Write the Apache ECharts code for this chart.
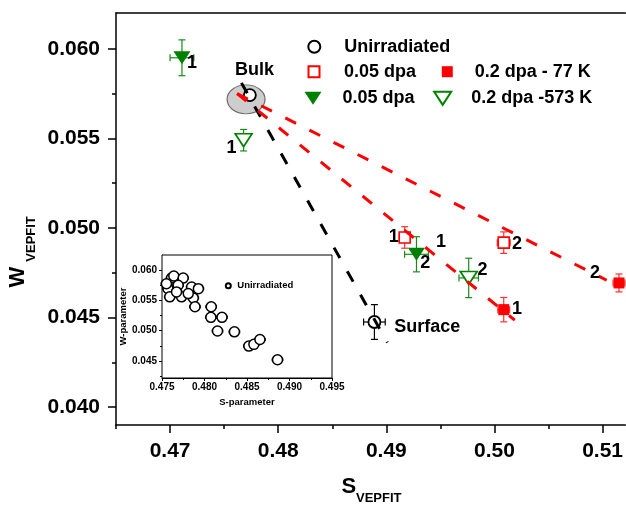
<!DOCTYPE html>
<html><head><meta charset="utf-8">
<script src="https://cdn.jsdelivr.net/npm/echarts@6/dist/echarts.min.js"></script>
<style>html,body{margin:0;padding:0;background:#fff}#c{width:626px;height:505px}</style>
</head><body><div id="c"></div>
<script>
// ---------- data ----------
const xMajorTicks = [0.47, 0.48, 0.49, 0.50, 0.51];
const xMinorTicks = [0.465, 0.475, 0.485, 0.495, 0.505];
const yMajorTicks = [0.040, 0.045, 0.050, 0.055, 0.060];
const yMinorTicks = [0.0425, 0.0475, 0.0525, 0.0575];

// [S, W, S-error, W-error]
const unirradiated = [[0.47738, 0.05742, 0, 0], [0.4889, 0.04475, 0.0010, 0.00097]];
const dpa005Open   = [[0.4917, 0.04947, 0.0005, 0.0006], [0.50086, 0.04918, 0.0006, 0.0006]];
const dpa02at77K   = [[0.50086, 0.04544, 0.00055, 0.00068], [0.51152, 0.04693, 0.00055, 0.0005]];
const dpa005Tri    = [[0.4711, 0.0595, 0.0011, 0.0010], [0.49279, 0.04853, 0.0011, 0.00098]];
const dpa02at573K  = [[0.4768, 0.0549, 0, 0.0006], [0.49762, 0.04721, 0.0009, 0.0011]];

const bulkRegion = [[0.47703, 0.05718]];
const bulkToSurface = [[0.4766, 0.0581], [0.4901, 0.0436]];
const bulkToSample1 = [[0.4762, 0.0575], [0.50188, 0.04485]];
const bulkToSample2 = [[0.4762, 0.0575], [0.51038, 0.04708]];

const pointNotes = [
  [0.47202, 0.05923, '1'], [0.47569, 0.05444, '1'], [0.49069, 0.04950, '1'],
  [0.50208, 0.04913, '2'], [0.49360, 0.04802, '2'], [0.49506, 0.04922, '1'],
  [0.49890, 0.04764, '2'], [0.50209, 0.04545, '1'], [0.50930, 0.04746, '2']
];
const regionNotes = [[0.47780, 0.05880, 'Bulk'], [0.49379, 0.04447, 'Surface']];

// inset
const insetXTicks = [0.475, 0.480, 0.485, 0.490, 0.495];
const insetYTicks = [0.045, 0.050, 0.055, 0.060];
const insetYMinor = [0.0425, 0.0475, 0.0525, 0.0575];
const insetPoints = [
  [0.47612, 0.05869, 0.0006], [0.47639, 0.05902, 0.0006], [0.47749, 0.05869, 0.0006],
  [0.47571, 0.05694, 0.0006], [0.47690, 0.05750, 0.0006], [0.47849, 0.05722, 0.0006],
  [0.47928, 0.05694, 0.0006], [0.47591, 0.05559, 0.0006], [0.47730, 0.05559, 0.0006],
  [0.47868, 0.05542, 0.0006], [0.47671, 0.05641, 0.0006], [0.47809, 0.05613, 0.0006],
  [0.47552, 0.05776, 0.0006], [0.47888, 0.05395, 0.0006], [0.48079, 0.05395, 0.0006],
  [0.48075, 0.05221, 0.0006], [0.48206, 0.05221, 0.0006], [0.48153, 0.04995, 0.0006],
  [0.48352, 0.04982, 0.0006], [0.48522, 0.04747, 0.0006], [0.48581, 0.04775, 0.0006],
  [0.48652, 0.04856, 0.0006], [0.48859, 0.04521, 0.0006]
];

// ---------- chart ----------
const FF = "'Liberation Sans', Arial, sans-serif";
const RED = '#ff0000', GREEN = '#008000', BLACK = '#000000';
const DOWN_TRIANGLE = 'path://M0,0L17,0L8.5,13Z';

function errorBars(data, color, xi, yi, cap, lw, z) {
  return {
    type: 'custom', xAxisIndex: xi, yAxisIndex: yi, data: data, z: z, silent: true,
    encode: { x: 0, y: 1 },
    renderItem: function (params, api) {
      const x = api.value(0), y = api.value(1), ex = api.value(2), ey = api.value(3);
      const st = { stroke: color, lineWidth: lw };
      const ch = [];
      if (ey > 0) {
        const a = api.coord([x, y - ey]), b = api.coord([x, y + ey]);
        ch.push({ type: 'line', shape: { x1: a[0], y1: a[1], x2: b[0], y2: b[1] }, style: st });
        ch.push({ type: 'line', shape: { x1: a[0] - cap, y1: a[1], x2: a[0] + cap, y2: a[1] }, style: st });
        ch.push({ type: 'line', shape: { x1: b[0] - cap, y1: b[1], x2: b[0] + cap, y2: b[1] }, style: st });
      }
      if (ex > 0) {
        const a = api.coord([x - ex, y]), b = api.coord([x + ex, y]);
        ch.push({ type: 'line', shape: { x1: a[0], y1: a[1], x2: b[0], y2: b[1] }, style: st });
        ch.push({ type: 'line', shape: { x1: a[0], y1: a[1] - cap, x2: a[0], y2: a[1] + cap }, style: st });
        ch.push({ type: 'line', shape: { x1: b[0], y1: b[1] - cap, x2: b[0], y2: b[1] + cap }, style: st });
      }
      return { type: 'group', children: ch };
    }
  };
}

function textNotes(data) {
  return {
    type: 'custom', xAxisIndex: 0, yAxisIndex: 0, data: data, z: 7, silent: true,
    encode: { x: 0, y: 1 },
    renderItem: function (params, api) {
      const p = api.coord([api.value(0), api.value(1)]);
      return { type: 'text', x: p[0], y: p[1],
        style: { text: data[params.dataIndex][2], font: 'bold 18px ' + FF, fill: BLACK,
                 textAlign: 'center', textVerticalAlign: 'middle' } };
    }
  };
}

function dashed(data, color) {
  return {
    type: 'line', data: data, xAxisIndex: 0, yAxisIndex: 0, symbol: 'none', showSymbol: false,
    silent: true, z: 6, lineStyle: { color: color, width: 3, type: [12, 15] }
  };
}

const axisLineStyle = { color: BLACK, width: 1.5 };
const bigLabel = { fontSize: 21, fontWeight: 'bold', color: BLACK, fontFamily: FF };
const smallLabel = { fontSize: 10, fontWeight: 'bold', color: BLACK, fontFamily: FF };
const legendText = (pad) => ({ fontSize: 18, fontWeight: 'bold', color: BLACK, fontFamily: FF, padding: [0, 0, 0, pad] });

const option = {
  animation: false,
  backgroundColor: '#fff',
  grid: [
    { left: 116, top: 13, width: 510, height: 412 },
    { left: 162, top: 255, width: 170, height: 123, show: true, backgroundColor: '#fff', borderColor: BLACK, borderWidth: 1, z: 1 }
  ],
  xAxis: [
    { gridIndex: 0, type: 'value', min: 0.465, max: 0.5121, position: 'bottom',
      axisLine: { onZero: false, lineStyle: axisLineStyle },
      axisTick: { customValues: xMajorTicks, length: 8, lineStyle: axisLineStyle },
      axisLabel: { customValues: xMajorTicks, formatter: v => v.toFixed(2), margin: 16, ...bigLabel },
      splitLine: { show: false } },
    { gridIndex: 0, type: 'value', min: 0.465, max: 0.5121, position: 'bottom',
      axisLine: { show: false },
      axisTick: { customValues: xMinorTicks, length: 4, lineStyle: axisLineStyle },
      axisLabel: { show: false }, splitLine: { show: false } },
    { gridIndex: 0, type: 'value', min: 0.465, max: 0.5121, position: 'top',
      axisLine: { onZero: false, lineStyle: axisLineStyle },
      axisTick: { show: false }, axisLabel: { show: false }, splitLine: { show: false } },
    { gridIndex: 1, type: 'value', min: 0.475, max: 0.495, interval: 0.005, position: 'bottom',
      axisLine: { onZero: false, lineStyle: { color: BLACK, width: 1 } },
      axisTick: { length: 3, lineStyle: { color: BLACK, width: 1 } },
      minorTick: { show: true, splitNumber: 2, length: 2, lineStyle: { color: BLACK, width: 1 } },
      axisLabel: { formatter: v => v.toFixed(3), margin: 4, ...smallLabel },
      splitLine: { show: false },
      name: 'S-parameter', nameLocation: 'middle', nameGap: 19,
      nameTextStyle: { fontSize: 9.5, fontWeight: 'bold', color: BLACK, fontFamily: FF } }
  ],
  yAxis: [
    { gridIndex: 0, type: 'value', min: 0.039, max: 0.062, position: 'left',
      axisLine: { show: true, onZero: false, lineStyle: axisLineStyle },
      axisTick: { show: true, customValues: yMajorTicks, length: 8, lineStyle: axisLineStyle },
      axisLabel: { customValues: yMajorTicks, formatter: v => v.toFixed(3), margin: 16, ...bigLabel },
      splitLine: { show: false } },
    { gridIndex: 0, type: 'value', min: 0.039, max: 0.062, position: 'left',
      axisLine: { show: false },
      axisTick: { show: true, customValues: yMinorTicks, length: 4, lineStyle: axisLineStyle },
      axisLabel: { show: false }, splitLine: { show: false } },
    { gridIndex: 1, type: 'value', min: 0.0422, max: 0.0625, position: 'left',
      axisLine: { show: true, onZero: false, lineStyle: { color: BLACK, width: 1 } },
      axisTick: { show: true, customValues: insetYTicks, length: 3, lineStyle: { color: BLACK, width: 1 } },
      axisLabel: { customValues: insetYTicks, formatter: v => v.toFixed(3), margin: 5, ...smallLabel },
      splitLine: { show: false },
      name: 'W-parameter', nameLocation: 'middle', nameGap: 31,
      nameTextStyle: { fontSize: 9.5, fontWeight: 'bold', color: BLACK, fontFamily: FF } },
    { gridIndex: 1, type: 'value', min: 0.0422, max: 0.0625, position: 'left',
      axisLine: { show: false },
      axisTick: { show: true, customValues: insetYMinor, length: 2, lineStyle: { color: BLACK, width: 1 } },
      axisLabel: { show: false }, splitLine: { show: false } }
  ],
  legend: [
    { data: ['Unirradiated'], left: 307.3, top: 37.7, padding: 0, itemWidth: 12, itemHeight: 12, selectedMode: false, textStyle: legendText(19) },
    { data: ['0.05 dpa'], left: 307.5, top: 62.7, padding: 0, itemWidth: 11, itemHeight: 11, selectedMode: false, textStyle: legendText(19.5) },
    { data: ['0.2 dpa - 77 K'], left: 441.8, top: 62.7, padding: 0, itemWidth: 11, itemHeight: 11, selectedMode: false, textStyle: legendText(17) },
    { data: [{ name: '0.05 dpa\u200b', icon: DOWN_TRIANGLE }], symbolRotate: 0, left: 304.5, top: 89.3, padding: 0, itemWidth: 17, itemHeight: 13, selectedMode: false, textStyle: legendText(16) },
    { data: [{ name: '0.2 dpa -573 K', icon: DOWN_TRIANGLE }], symbolRotate: 0, left: 433.2, top: 89.3, padding: 0, itemWidth: 17, itemHeight: 13, selectedMode: false, textStyle: legendText(15) },
    { data: ['Unirradiated\u200b'], left: 224.8, top: 280.7, padding: 0, itemWidth: 5, itemHeight: 5, selectedMode: false,
      textStyle: { fontSize: 9.5, fontWeight: 'bold', color: BLACK, fontFamily: FF, padding: [0, 0, 0, 1.5] } }
  ],
  graphic: [
    { type: 'text', x: 341.5, y: 486.5, style: { text: 'S', font: 'bold 22px ' + FF, fill: BLACK, textAlign: 'left', textVerticalAlign: 'middle' } },
    { type: 'text', x: 356, y: 498.3, style: { text: 'VEPFIT', font: 'bold 13px ' + FF, fill: BLACK, textAlign: 'left', textVerticalAlign: 'middle' } },
    { type: 'text', x: 18.3, y: 287.5, rotation: Math.PI / 2, style: { text: 'W', font: 'bold 22px ' + FF, fill: BLACK, textAlign: 'left', textVerticalAlign: 'middle' } },
    { type: 'text', x: 31.3, y: 261.7, rotation: Math.PI / 2, style: { text: 'VEPFIT', font: 'bold 13px ' + FF, fill: BLACK, textAlign: 'left', textVerticalAlign: 'middle' } }
  ],
  series: [
    { type: 'scatter', name: 'bulk region', data: bulkRegion, xAxisIndex: 0, yAxisIndex: 0, z: 2, silent: true,
      symbol: 'circle', symbolSize: [38, 29], itemStyle: { color: '#c0c0c0', borderColor: '#444', borderWidth: 1 } },
    errorBars(unirradiated, BLACK, 0, 0, 3.5, 1.2, 3),
    errorBars(dpa005Open, '#ff3030', 0, 0, 3.5, 1.2, 3),
    errorBars(dpa02at77K, '#ff3030', 0, 0, 3.5, 1.2, 3),
    errorBars(dpa005Tri, '#1a8a1a', 0, 0, 3.5, 1.2, 3),
    errorBars(dpa02at573K, '#1a8a1a', 0, 0, 3.5, 1.2, 3),
    { type: 'scatter', name: 'Unirradiated', data: unirradiated, xAxisIndex: 0, yAxisIndex: 0, z: 4,
      symbol: 'circle', symbolSize: 12, itemStyle: { color: '#fff', borderColor: BLACK, borderWidth: 1.8, opacity: 1 } },
    { type: 'scatter', name: '0.05 dpa', data: dpa005Open, xAxisIndex: 0, yAxisIndex: 0, z: 4,
      symbol: 'rect', symbolSize: 11, itemStyle: { color: '#fff', borderColor: RED, borderWidth: 1.6, opacity: 1 } },
    { type: 'scatter', name: '0.2 dpa - 77 K', data: dpa02at77K, xAxisIndex: 0, yAxisIndex: 0, z: 4,
      symbol: 'rect', symbolSize: 11, itemStyle: { color: RED, opacity: 1 } },
    { type: 'scatter', name: '0.05 dpa\u200b', data: dpa005Tri, xAxisIndex: 0, yAxisIndex: 0, z: 4,
      symbol: 'triangle', symbolRotate: 180, symbolSize: [17, 13], itemStyle: { color: GREEN, opacity: 1 } },
    { type: 'scatter', name: '0.2 dpa -573 K', data: dpa02at573K, xAxisIndex: 0, yAxisIndex: 0, z: 4,
      symbol: 'triangle', symbolRotate: 180, symbolSize: [17, 13], itemStyle: { color: '#fff', borderColor: GREEN, borderWidth: 1.6, opacity: 1 } },
    dashed(bulkToSurface, BLACK),
    dashed(bulkToSample1, RED),
    dashed(bulkToSample2, RED),
    textNotes(pointNotes),
    textNotes(regionNotes),
    errorBars(insetPoints, BLACK, 3, 2, 1.5, 1.5, 8),
    { type: 'scatter', name: 'Unirradiated\u200b', data: insetPoints, xAxisIndex: 3, yAxisIndex: 2, z: 9,
      symbol: 'circle', symbolSize: 10, itemStyle: { color: '#fff', borderColor: BLACK, borderWidth: 1.5, opacity: 1 } }
  ]
};

const chart = echarts.init(document.getElementById('c'), null, { renderer: 'canvas' });
chart.setOption(option);
</script></body></html>
